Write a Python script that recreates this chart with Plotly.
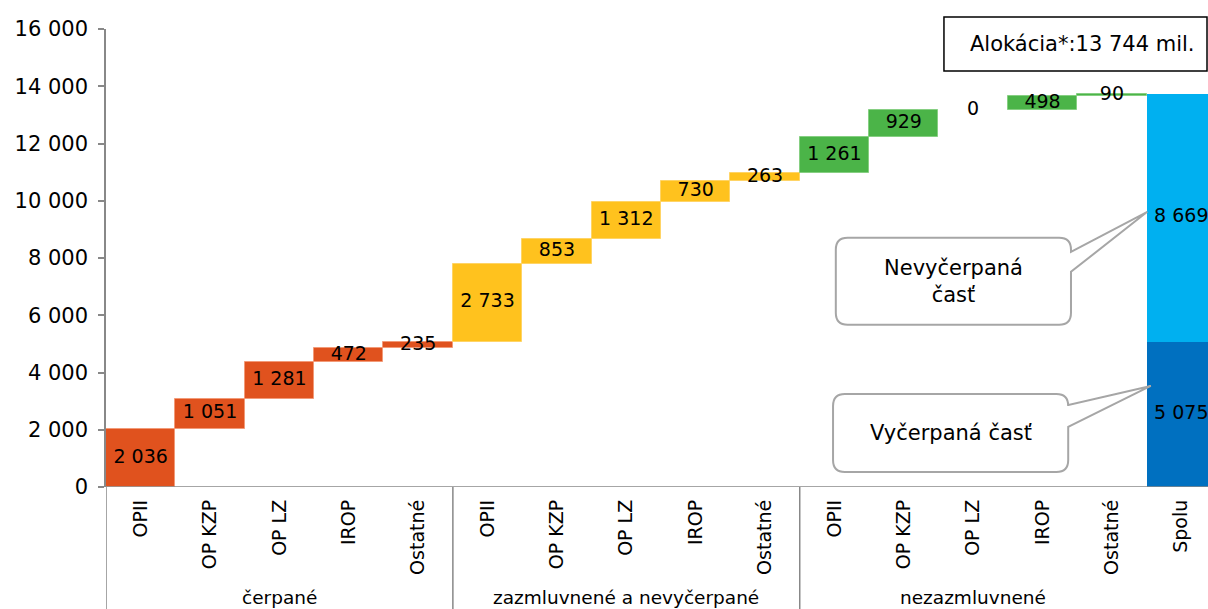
import plotly.graph_objects as go

# Operational programmes (category axis, repeated per group)
programmes = ["OPII", "OP KZP", "OP LZ", "IROP", "Ostatné"]
groups = ["čerpané", "zazmluvnené a nevyčerpané", "nezazmluvnené"]

# Amounts in mil. EUR per group
cerpane = [2036, 1051, 1281, 472, 235]
zazmluvnene = [2733, 853, 1312, 730, 263]
nezazmluvnene = [1261, 929, 0, 498, 90]

# Total column split
spolu_vycerpane = 5075
spolu_nevycerpane = 8669

group_values = [cerpane, zazmluvnene, nezazmluvnene]
group_colors = ["#E0521E", "#FFC21E", "#4BB448"]
group_edges = ["#F29A78", "#FFD466", "#86CF82"]

FONT = "DejaVu Sans"
FS = 19
FS_BIG = 21


def fmt(v):
    return f"{v:,}".replace(",", " ")


fig = go.Figure()

# Floating waterfall steps
running = 0
pos = 0
tick_vals, tick_text = [], []
lbl_x, lbl_y, lbl_t = [], [], []
for vals, col, edge in zip(group_values, group_colors, group_edges):
    xs, bases = [], []
    for name, v in zip(programmes, vals):
        xs.append(pos)
        bases.append(running)
        lbl_x.append(pos)
        lbl_y.append(running + v / 2)
        lbl_t.append(fmt(v))
        tick_vals.append(pos)
        tick_text.append(name)
        running += v
        pos += 1
    fig.add_trace(go.Bar(x=xs, y=vals, base=bases, width=1.0,
                         marker=dict(color=col,
                                     line=dict(color=edge,
                                               width=[1 if v else 0 for v in vals])),
                         showlegend=False, hoverinfo="skip"))

total = running
spolu_x = pos
tick_vals.append(spolu_x)
tick_text.append("Spolu")

# Total column: drawn part and remaining part
fig.add_trace(go.Bar(x=[spolu_x], y=[spolu_vycerpane], base=[0], width=1.0,
                     marker=dict(color="#0070C0", line=dict(width=0)),
                     showlegend=False, hoverinfo="skip"))
fig.add_trace(go.Bar(x=[spolu_x], y=[spolu_nevycerpane], base=[spolu_vycerpane], width=1.0,
                     marker=dict(color="#00B0F0", line=dict(width=0)),
                     showlegend=False, hoverinfo="skip"))
lbl_x += [spolu_x, spolu_x]
lbl_y += [spolu_vycerpane / 2, spolu_vycerpane + spolu_nevycerpane / 2]
lbl_t += [fmt(spolu_vycerpane), fmt(spolu_nevycerpane)]

fig.add_trace(go.Scatter(x=lbl_x, y=lbl_y, text=lbl_t, mode="text",
                         textfont=dict(family=FONT, size=FS, color="black"),
                         showlegend=False, hoverinfo="skip"))

AX = "#888888"
fig.update_layout(
    width=1208, height=609,
    margin=dict(l=106, r=0, t=29, b=122),
    paper_bgcolor="white", plot_bgcolor="white",
    barmode="overlay", bargap=0,
    separators=", ",
    font=dict(family=FONT, size=FS, color="black"),
    xaxis=dict(range=[-0.5, 15.385], tickvals=tick_vals, ticktext=tick_text,
               tickangle=-90, ticks="", showgrid=False, zeroline=False,
               showline=False, tickfont=dict(family=FONT, size=FS),
               ticklabelstandoff=8),
    yaxis=dict(range=[0, 16000], dtick=2000, tickformat=",d", showgrid=False,
               zeroline=False, showline=True, linecolor=AX, linewidth=1.5,
               ticks="outside", ticklen=6, tickcolor=AX, tickwidth=1.5,
               tickfont=dict(family=FONT, size=FS_BIG), ticklabelstandoff=6),
)

# Category axis line and group separators
fig.add_shape(type="line", xref="x", yref="y", x0=-0.5, x1=15.5, y0=0, y1=0,
              line=dict(color=AX, width=1.5), layer="above")
for sx in [-0.5, 4.5, 9.5]:
    fig.add_shape(type="line", xref="x", yref="paper", x0=sx, x1=sx, y0=0, y1=-0.27,
                  line=dict(color=AX, width=1.5))

# Group labels under the programme names
for i, g in enumerate(groups):
    fig.add_annotation(x=i * 5 + 2, xref="x", y=-0.241, yref="paper",
                       text=g, showarrow=False, xanchor="center", yanchor="middle",
                       font=dict(family=FONT, size=18.5))


# Callouts with rounded corners and a wedge pointing at the total column
def callout(x0, x1, y0, y1, wy0, wy1, tipx, tipy, text):
    rx, ry = 0.17, 420
    p = (f"M {x0+rx},{y1} L {x1-rx},{y1} Q {x1},{y1} {x1},{y1-ry} "
         f"L {x1},{wy0} L {tipx},{tipy} L {x1},{wy1} "
         f"L {x1},{y0+ry} Q {x1},{y0} {x1-rx},{y0} "
         f"L {x0+rx},{y0} Q {x0},{y0} {x0},{y0+ry} "
         f"L {x0},{y1-ry} Q {x0},{y1} {x0+rx},{y1} Z")
    fig.add_shape(type="path", path=p, xref="x", yref="y",
                  fillcolor="white", line=dict(color="#A6A6A6", width=2), layer="above")
    fig.add_annotation(x=(x0 + x1) / 2, y=(y0 + y1) / 2, xref="x", yref="y",
                       text=text, showarrow=False, xanchor="center", yanchor="middle",
                       font=dict(family=FONT, size=FS_BIG))


callout(10.02, 13.41, 5664, 8706, 8217, 7517, 14.51, 9615, "Nevyčerpaná<br>časť")
callout(9.98, 13.37, 524, 3252, 2867, 2098, 14.56, 3531, "Vyčerpaná časť")

# Allocation box above the plot area
fig.add_shape(type="rect", xref="paper", yref="paper", x0=0.7604, x1=0.9991,
              y0=0.9083, y1=1.0262,
              line=dict(color="black", width=1.5), fillcolor="white", layer="above")
fig.add_annotation(x=0.8857, y=0.9672, xref="paper", yref="paper",
                   xanchor="center", yanchor="middle",
                   text=f"Alokácia*:{fmt(total)} mil.", showarrow=False,
                   font=dict(family=FONT, size=FS_BIG))

fig.write_html("out.html")
